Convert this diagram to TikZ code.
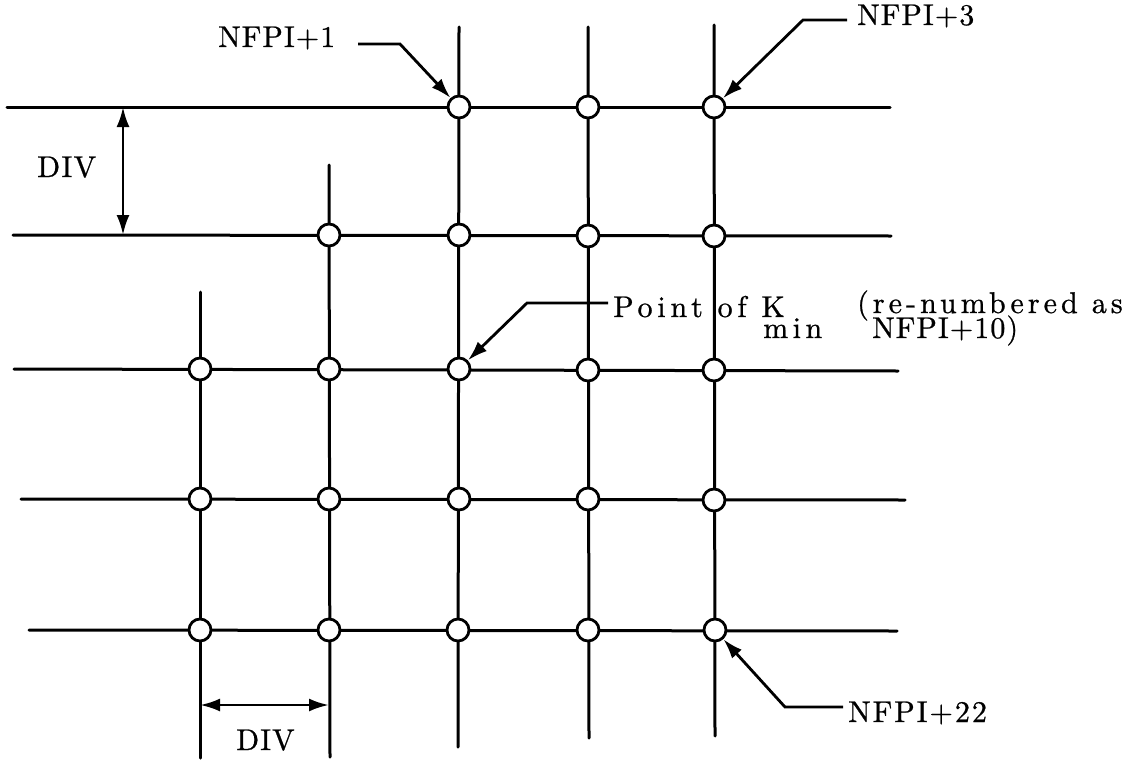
\documentclass[tikz,border=0pt]{standalone}
\usepackage{fontspec}
\usetikzlibrary{arrows.meta}
\newfontfamily\lblA{lmroman10-regular}[Extension=.otf, LetterSpace=3.6, FakeBold=0.8]
\newfontfamily\lblB{lmroman10-regular}[Extension=.otf, LetterSpace=6.7, FakeBold=0.8]
\newfontfamily\lblC{lmroman10-regular}[Extension=.otf, LetterSpace=16, FakeBold=0.8]
\newfontfamily\lblD{lmroman10-regular}[Extension=.otf, LetterSpace=15, FakeBold=0.8]
\newfontfamily\lblE{lmroman10-regular}[Extension=.otf, LetterSpace=13.5, FakeBold=0.8]
\newfontfamily\lblF{lmroman10-regular}[Extension=.otf, LetterSpace=4.5, FakeBold=0.8]
\begin{document}
\begin{tikzpicture}[x=1pt,y=-1pt,
  gridline/.style={line width=3pt, line cap=round},
  gpt/.style={circle, draw, fill=white, line width=2.8pt, minimum size=22pt, inner sep=0pt},
  leader/.style={line width=2.8pt, -{Latex[length=20pt,width=13pt]}},
  dimline/.style={line width=2.8pt, {Latex[length=20pt,width=13pt]}-{Latex[length=20pt,width=13pt]}},
  lbl/.style={inner sep=0pt, anchor=base west, font=\fontsize{30}{32}\selectfont}
]
\useasboundingbox (0,0) rectangle (1139,760);

% grid line end points
\coordinate (r1w) at (7,107);   \coordinate (r1e) at (890,107);
\coordinate (r2w) at (13,235);  \coordinate (r2e) at (891,236);
\coordinate (r3w) at (14,369);  \coordinate (r3e) at (898,371);
\coordinate (r4w) at (21,499);  \coordinate (r4e) at (905,500);
\coordinate (r5w) at (29,630);  \coordinate (r5e) at (897,631);
\coordinate (k1n) at (200,292); \coordinate (k1s) at (200,758);
\coordinate (k2n) at (329,165); \coordinate (k2s) at (330,757);
\coordinate (k3n) at (459,27);  \coordinate (k3s) at (458,747);
\coordinate (k4n) at (588,27);  \coordinate (k4s) at (589,738);
\coordinate (k5n) at (714,25);  \coordinate (k5s) at (715,736);

\foreach \a/\b in {r1w/r1e,r2w/r2e,r3w/r3e,r4w/r4e,r5w/r5e,k1n/k1s,k2n/k2s,k3n/k3s,k4n/k4s,k5n/k5s}
  \draw[gridline] (\a) -- (\b);

% grid points
\node[gpt] (c13) at (459,107) {};
\node[gpt] (c14) at (588,107) {};
\node[gpt] (c15) at (714,107) {};
\node[gpt] (c22) at (329,235) {};
\node[gpt] (c23) at (459,235) {};
\node[gpt] (c24) at (588,236) {};
\node[gpt] (c25) at (714,236) {};
\node[gpt] (c31) at (200,369) {};
\node[gpt] (c32) at (329,369) {};
\node[gpt] (c33) at (459,369) {};
\node[gpt] (c34) at (588,370) {};
\node[gpt] (c35) at (714,370) {};
\node[gpt] (c41) at (200,499) {};
\node[gpt] (c42) at (329,499) {};
\node[gpt] (c43) at (459,499) {};
\node[gpt] (c44) at (588,499) {};
\node[gpt] (c45) at (714,500) {};
\node[gpt] (c51) at (200,630) {};
\node[gpt] (c52) at (329,630) {};
\node[gpt] (c53) at (458,630) {};
\node[gpt] (c54) at (588,630) {};
\node[gpt] (c55) at (715,630) {};

% labels
\node[lbl] (tn1) at (218,47) {\lblA NFPI+1};
\node[lbl] (tn3) at (857,25) {\lblA NFPI+3};
\node[lbl] (tk) at (613,317) {\lblC Point of K};
\node[lbl] (tmin) at (763,338) {\lblD min};
\node[lbl] (tre) at (857,313) {\lblE (re-numbered as};
\node[lbl] (tn10) at (872,338) {\lblA NFPI+10)};
\node[lbl] (tn22) at (848,722) {\lblB NFPI+22};
\node[lbl] (tdv) at (37,177) {\lblF DIV};
\node[lbl] (tdh) at (236,750) {\lblA DIV};

% leaders
\coordinate (a1s) at (358,44);  \coordinate (a1k) at (400,44);
\coordinate (a3s) at (847,20);  \coordinate (a3k) at (803,20);
\coordinate (aks) at (608,303); \coordinate (akk) at (527,303);
\coordinate (a22s) at (843,707); \coordinate (a22k) at (785,707);
\draw[leader] (a1s) -- (a1k) -- (c13);
\draw[leader] (a3s) -- (a3k) -- (c15);
\draw[leader] (aks) -- (akk) -- (c33);
\draw[leader] (a22s) -- (a22k) -- (c55);

% DIV dimensions
\coordinate (dv1) at (123,107); \coordinate (dv2) at (123,235);
\coordinate (dh1) at (200,705); \coordinate (dh2) at (329,705);
\draw[dimline] (dv1) -- (dv2);
\draw[dimline] (dh1) -- (dh2);
\end{tikzpicture}
\end{document}
